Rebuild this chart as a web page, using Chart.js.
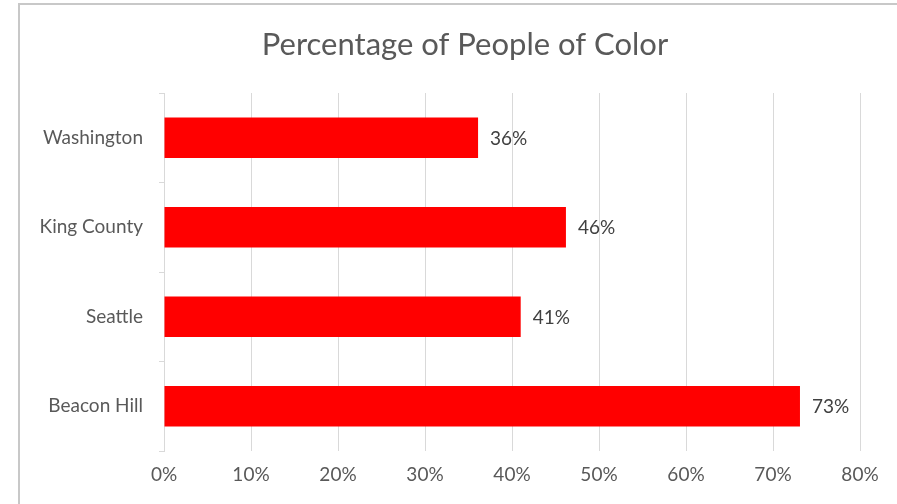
<!DOCTYPE html>
<html>
<head>
<meta charset="utf-8">
<script src="https://cdn.jsdelivr.net/npm/chart.js@4.4.1/dist/chart.umd.min.js"></script>
<style>
    html, body { margin: 0; padding: 0; background: #fff; overflow: hidden; }
    #wrap { position: relative; width: 897px; height: 504px; }
    #frame { position: absolute; left: 18px; top: 3px; width: 1000px; height: 1000px; border: 2px solid #c8c8c8; }
    canvas { position: absolute; left: 0; top: 0; }
</style>
</head>
<body>
<div id="wrap">
    <div id="frame"></div>
    <canvas id="chart" width="897" height="504"></canvas>
</div>
<script>
var chartTitle = 'Percentage of People of Color';
var categories = ['Washington', 'King County', 'Seattle', 'Beacon Hill'];
var values = [36.1, 46.2, 41.0, 73.1];
var tickLabels = ['0%', '10%', '20%', '30%', '40%', '50%', '60%', '70%', '80%'];

// value labels at the end of each bar + title centred on the frame
var barLabels = {
    id: 'barLabels',
    afterDatasetsDraw: function (chart) {
        var ctx = chart.ctx;
        var meta = chart.getDatasetMeta(0);
        ctx.save();
        ctx.font = '19px Lato';
        ctx.fillStyle = '#404040';
        ctx.textAlign = 'left';
        ctx.textBaseline = 'middle';
        meta.data.forEach(function (bar, i) {
            ctx.fillText(Math.round(values[i]) + '%', bar.x + 12, bar.y + 1);
        });

        ctx.font = '31px Lato';
        ctx.fillStyle = '#595959';
        ctx.textAlign = 'center';
        ctx.fillText(chartTitle, 465, 45);
        ctx.restore();
    }
};

var ctx = document.getElementById('chart');
var myChart = new Chart(ctx, {
    type: 'bar',
    data: {
        labels: categories,
        datasets: [{
            data: values,
            backgroundColor: '#ff0000',
            borderWidth: 0,
            categoryPercentage: 1,
            barPercentage: 0.45
        }]
    },
    plugins: [barLabels],
    options: {
        indexAxis: 'y',
        responsive: false,
        animation: false,
        layout: { padding: { left: 0, right: 37, top: 93, bottom: 0 } },
        plugins: {
            legend: { display: false },
            tooltip: { enabled: false },
            title: { display: false }
        },
        scales: {
            x: {
                min: 0,
                max: 80,
                ticks: {
                    stepSize: 10,
                    color: '#595959',
                    font: { family: 'Lato', size: 19 },
                    padding: 12,
                    callback: function (v, i) { return tickLabels[i]; }
                },
                grid: { color: '#d9d9d9', drawTicks: false },
                border: { display: false },
                afterFit: function (scale) { scale.height = 53; }
            },
            y: {
                ticks: {
                    color: '#595959',
                    font: { family: 'Lato', size: 19 },
                    padding: 16
                },
                grid: {
                    drawOnChartArea: false,
                    color: '#d9d9d9',
                    tickLength: 5,
                    offset: true
                },
                border: { display: true, color: '#d9d9d9' },
                afterFit: function (scale) { scale.width = 164; }
            }
        }
    }
});
</script>
</body>
</html>
